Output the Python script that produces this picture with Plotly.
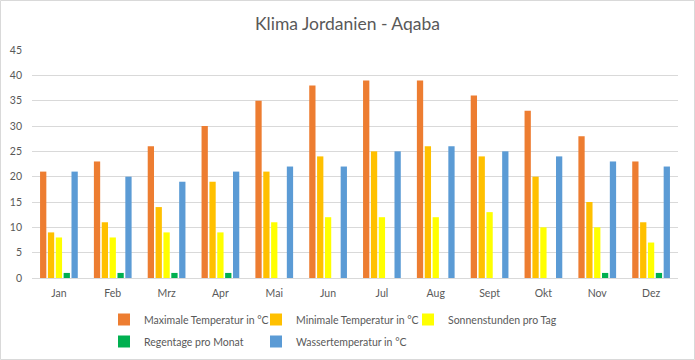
import plotly.graph_objects as go

months = ["Jan", "Feb", "Mrz", "Apr", "Mai", "Jun", "Jul", "Aug", "Sept", "Okt", "Nov", "Dez"]
max_temp = [21, 23, 26, 30, 35, 38, 39, 39, 36, 33, 28, 23]
min_temp = [9, 11, 14, 19, 21, 24, 25, 26, 24, 20, 15, 11]
sun_hours = [8, 8, 9, 9, 11, 12, 12, 12, 13, 10, 10, 7]
rain_days = [1, 1, 1, 1, 0, 0, 0, 0, 0, 0, 1, 1]
water_temp = [21, 20, 19, 21, 22, 22, 25, 26, 25, 24, 23, 22]
y_ticks = [0, 5, 10, 15, 20, 25, 30, 35, 40, 45]

series = [
    ("Maximale Temperatur in °C", max_temp, "#ED7D31", "legend"),
    ("Minimale Temperatur in °C", min_temp, "#FFC000", "legend"),
    ("Sonnenstunden pro Tag", sun_hours, "#FFFF00", "legend"),
    ("Regentage pro Monat", rain_days, "#00B050", "legend2"),
    ("Wassertemperatur in °C", water_temp, "#5B9BD5", "legend2"),
]

fig = go.Figure()
for name, vals, col, leg in series:
    fig.add_trace(go.Bar(x=months, y=vals, name=name, marker_color=col,
                         marker_line_width=0, legend=leg))

W, H = 695, 360
ml, mr, mt, mb = 32, 17, 50, 82
pw, ph = W - ml - mr, H - mt - mb
font = "Lato, Open Sans, sans-serif"
txt = "#595959"
leg_common = dict(orientation="h", xref="container", yref="container",
                  xanchor="left", yanchor="top",
                  entrywidth=107, entrywidthmode="pixels",
                  font=dict(family=font, size=10.5, color=txt))
fig.update_layout(
    width=W, height=H,
    margin=dict(l=ml, r=mr, t=mt, b=mb, autoexpand=False),
    paper_bgcolor="white", plot_bgcolor="white",
    barmode="group", bargap=0.27, bargroupgap=0.2,
    title=dict(text="Klima Jordanien - Aqaba", x=0.5, xanchor="center",
               xref="container", yref="container",
               y=1 - 24 / H, yanchor="middle",
               font=dict(family=font, size=17.5, color=txt)),
    font=dict(family=font, size=10.5, color=txt),
    legend=dict(x=104 / W, y=1 - 305 / H, **leg_common),
    legend2=dict(x=104 / W, y=1 - 327 / H, **leg_common),
    showlegend=True,
)
fig.update_yaxes(range=[0, 45], tickvals=y_ticks, showgrid=True, gridcolor="#D9D9D9",
                 gridwidth=1, zeroline=False, showline=False, ticks="",
                 ticklabelstandoff=9,
                 tickfont=dict(family=font, size=10.5, color=txt))
fig.update_xaxes(showgrid=False, showline=True, linecolor="#D9D9D9", linewidth=1,
                 ticks="", ticklabelstandoff=5,
                 tickfont=dict(family=font, size=10.5, color=txt))
fig.add_shape(type="rect", xref="paper", yref="paper",
              x0=(-ml + 0.5) / pw, x1=(pw + mr - 0.5) / pw,
              y0=(-mb + 0.5) / ph, y1=(ph + mt - 0.5) / ph,
              line=dict(color="#D9D9D9", width=1), fillcolor="rgba(0,0,0,0)", layer="below")
fig.write_html("out.html", config={"displayModeBar": False},
               post_script="document.body.style.margin='0px';document.body.style.overflow='hidden';")
